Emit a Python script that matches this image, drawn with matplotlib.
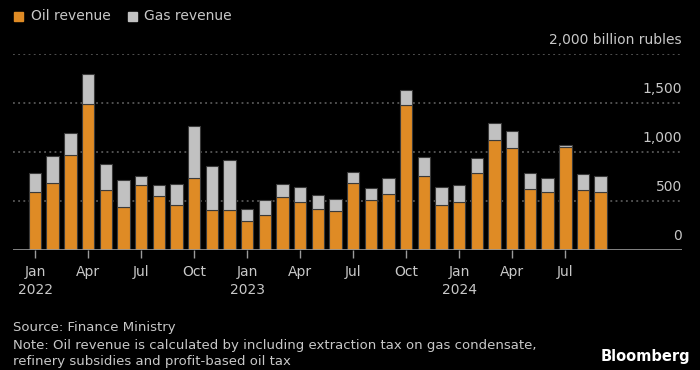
import matplotlib
matplotlib.use("Agg")
import matplotlib.pyplot as plt
import numpy as np

months = ["Jan", "Feb", "Mar", "Apr", "May", "Jun", "Jul", "Aug", "Sep", "Oct", "Nov", "Dec"] * 2 + \
         ["Jan", "Feb", "Mar", "Apr", "May", "Jun", "Jul", "Aug", "Sep"]
oil = [588, 686, 970, 1490, 608, 436, 666, 551, 463, 730, 406, 406,
       301, 355, 544, 490, 419, 399, 683, 510, 568, 1477, 760, 458,
       494, 788, 1122, 1044, 622, 588, 1047, 608, 595]
total = [784, 963, 1196, 1791, 875, 710, 757, 662, 676, 1268, 859, 923,
         416, 514, 676, 642, 561, 520, 801, 636, 730, 1632, 950, 642,
         666, 936, 1295, 1213, 784, 737, 1068, 771, 760]
gas = [t - o for t, o in zip(total, oil)]
tick_idx = [0, 3, 6, 9, 12, 15, 18, 21, 24, 27, 30]
tick_labels = ["Jan\n2022", "Apr", "Jul", "Oct", "Jan\n2023", "Apr", "Jul", "Oct",
               "Jan\n2024", "Apr", "Jul"]
y_ticks = [0, 500, 1000, 1500, 2000]
y_labels = ["0", "500", "1,000", "1,500", "2,000 billion rubles"]

ORANGE = "#DF8B25"
GRAY = "#C1C1C1"
TEXT = "#C8C8C8"
BG = "#000000"

plt.rcParams['font.family'] = ['DejaVu Sans']

fig = plt.figure(figsize=(7, 3.7), dpi=100, facecolor=BG)
ax = fig.add_axes([13 / 700, (370 - 250) / 370, (682 - 13) / 700, (250 - 54) / 370])
ax.set_facecolor(BG)

x = np.arange(len(oil))
ax.bar(x, oil, width=0.7, color=ORANGE, edgecolor="#3a3a3a", linewidth=0.8, zorder=3)
ax.bar(x, gas, bottom=oil, width=0.7, color=GRAY, edgecolor="#3a3a3a", linewidth=0.8, zorder=3)

ax.set_xlim(-1.245, 36.6)
ax.set_ylim(0, 2000)

for yv in y_ticks[1:]:
    ax.axhline(yv, color="#666666", linestyle=(0, (1.2, 2.2)), linewidth=1.1, zorder=1)
ax.axhline(0, color="#9a9a9a", linewidth=1.2, zorder=4)

for yv, lab in zip(y_ticks, y_labels):
    ax.text(1.0, yv + 70, lab, transform=ax.get_yaxis_transform(), ha="right", va="bottom",
            color=TEXT, fontsize=10)

for s in ax.spines.values():
    s.set_visible(False)
ax.set_yticks([])
ax.set_xticks(x[tick_idx])
ax.set_xticklabels(tick_labels, color=TEXT, fontsize=10, linespacing=1.35)
ax.tick_params(axis="x", length=6, width=1, color="#9a9a9a", pad=5)

# legend
fig.patches.append(plt.Rectangle((14 / 700, 1 - 21 / 370), 9 / 700, 9 / 370,
                                 transform=fig.transFigure, color=ORANGE, figure=fig))
fig.text(31 / 700, 1 - 16 / 370, "Oil revenue", color=TEXT, fontsize=10, va="center", ha="left")
fig.patches.append(plt.Rectangle((128 / 700, 1 - 21 / 370), 9 / 700, 9 / 370,
                                 transform=fig.transFigure, color=GRAY, figure=fig))
fig.text(144 / 700, 1 - 16 / 370, "Gas revenue", color=TEXT, fontsize=10, va="center", ha="left")

# footer
fig.text(13 / 700, 1 - 327 / 370, "Source: Finance Ministry", color=TEXT, fontsize=9.5, va="center")
fig.text(13 / 700, 1 - 345 / 370,
         "Note: Oil revenue is calculated by including extraction tax on gas condensate,",
         color=TEXT, fontsize=9.5, va="center")
fig.text(13 / 700, 1 - 361 / 370, "refinery subsidies and profit-based oil tax",
         color=TEXT, fontsize=9.5, va="center")
fig.text(690 / 700, 1 - 357 / 370, "Bloomberg", color="white", fontsize=10.5,
         fontweight="bold", va="center", ha="right")

fig.savefig("out.png", dpi=100, facecolor=BG)
